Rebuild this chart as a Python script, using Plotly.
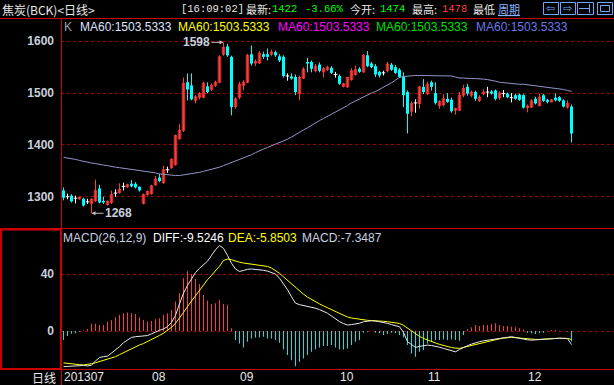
import plotly.graph_objects as go

W, H = 614, 385

# ---------------- data ----------------
opens = [1312,1300,1302,1297,1296,1296,1290,1287,1292,1316,1292,1285,1289,1307,1308,1320,1319,1325,1325,1319,
         1287,1304,1306,1323,1337,1327,1352,1356,1362,1412,1428,1521,1515,1486,1492,1492,1513,1507,1515,1521,
         1575,1590,1570,1474,1492,1515,1521,1575,1558,1558,1575,1575,1575,1579,1571,1570,1533,1532,1531,1499,
         1529,1560,1560,1543,1555,1541,1545,1549,1536,1533,1513,1512,1526,1536,1547,1541,1573,1557,1552,1541,
         1539,1543,1555,1550,1545,1532,1502,1465,1481,1480,1512,1499,1521,1500,1476,1478,1489,1487,1467,1467,
         1496,1512,1496,1502,1486,1499,1502,1503,1505,1491,1499,1499,1491,1496,1497,1496,1472,1473,1489,1476,
         1496,1487,1483,1491,1492,1486,1473,1474]
highs = [1318,1306,1305,1302,1300,1298,1296,1297,1333,1323,1300,1293,1312,1314,1326,1327,1325,1332,1328,1320,
         1306,1312,1323,1340,1344,1360,1358,1374,1420,1440,1530,1538,1538,1496,1502,1522,1521,1518,1524,1573,
         1598,1595,1572,1492,1522,1525,1576,1592,1565,1581,1580,1586,1584,1582,1575,1573,1538,1538,1536,1534,
         1550,1568,1563,1556,1559,1550,1553,1552,1541,1536,1520,1531,1548,1553,1550,1575,1581,1560,1556,1543,
         1543,1560,1558,1554,1548,1540,1505,1484,1488,1514,1527,1522,1524,1521,1486,1498,1500,1491,1472,1502,
         1516,1518,1505,1505,1496,1507,1512,1506,1507,1503,1506,1501,1500,1499,1499,1498,1478,1488,1493,1499,
         1498,1489,1488,1499,1494,1488,1486,1478]
lows = [1293,1295,1289,1287,1294,1281,1286,1268,1290,1287,1286,1283,1286,1300,1306,1312,1317,1318,1316,1310,
        1285,1302,1304,1321,1328,1325,1346,1354,1360,1410,1425,1486,1486,1480,1488,1490,1500,1504,1512,1519,
        1572,1570,1457,1470,1488,1505,1519,1553,1552,1556,1566,1563,1572,1570,1560,1530,1524,1526,1496,1486,
        1527,1540,1540,1540,1540,1530,1543,1537,1530,1516,1511,1510,1524,1534,1539,1539,1550,1548,1531,1530,
        1534,1540,1543,1537,1529,1473,1422,1455,1462,1470,1498,1496,1505,1478,1470,1474,1481,1462,1458,1465,
        1492,1495,1492,1485,1483,1496,1492,1497,1486,1487,1492,1490,1482,1487,1485,1470,1463,1471,1478,1474,
        1483,1480,1482,1484,1483,1472,1470,1405]
closes = [1298,1300,1291,1297,1299,1283,1290,1295,1312,1289,1289,1291,1304,1307,1314,1320,1323,1320,1318,1312,
          1304,1310,1321,1334,1330,1352,1352,1372,1418,1428,1519,1507,1488,1493,1499,1519,1502,1515,1521,1570,
          1588,1573,1473,1489,1517,1521,1573,1557,1561,1577,1570,1570,1579,1573,1563,1533,1533,1528,1502,1530,
          1546,1557,1547,1552,1543,1547,1550,1539,1536,1518,1518,1530,1543,1545,1541,1573,1552,1550,1536,1534,
          1539,1556,1545,1539,1531,1496,1460,1480,1481,1512,1502,1517,1512,1481,1484,1489,1483,1465,1470,1496,
          1509,1499,1502,1489,1492,1502,1502,1499,1489,1500,1499,1492,1491,1489,1487,1472,1475,1485,1480,1492,
          1485,1483,1487,1486,1485,1474,1480,1422]
ma60 = [1376,1375,1373,1372,1370,1368,1367,1365,1364,1362,1361,1360,1358,1357,1356,1355,1354,1353,1352,1351,
        1349,1348,1347,1346,1344,1343,1342,1341,1341,1341,1342,1343,1344,1345,1347,1349,1351,1352,1354,1357,
        1360,1363,1365,1368,1371,1374,1378,1381,1385,1389,1392,1395,1398,1401,1404,1408,1411,1415,1420,1424,
        1429,1433,1438,1443,1447,1451,1455,1460,1464,1468,1472,1476,1481,1485,1489,1493,1496,1500,1503,1507,
        1511,1515,1520,1525,1530,1532,1533,1534,1534,1534,1534,1534,1534,1534,1534,1534,1534,1533,1531,1529,
        1529,1528,1528,1528,1528,1527,1526,1525,1523,1521,1520,1519,1518,1518,1517,1517,1516,1515,1515,1514,
        1513,1512,1511,1510,1508,1507,1505,1503.5]
diff = [-25,-24.8,-24.6,-24.5,-24.3,-24.2,-24.5,-24,-21,-18.6,-18,-17.6,-15.5,-13.4,-11,-8.2,-6.5,-4.5,-4,-3.7,
        -3.5,-3.2,-2,-0.5,0.5,1.5,3,6,11,19,26.6,32,37,41,44,46.6,49,53,57,60,
        58,53,47.5,43.5,41.8,42.5,43.3,43.5,43.3,43,42.6,42,41,40,37,33,29,24,19.5,18.5,
        18,17.2,16.6,16,15,14,12.5,10.5,8.5,6.6,5.2,4.2,4.5,4.9,5.5,6.5,7,7.2,7,6.6,
        6,5.4,4.5,3.5,3,-1,-7.5,-9.5,-11.5,-10.8,-10.3,-9.9,-10.2,-10.6,-11.4,-12.2,-13,-14,-14.6,-13,
        -11.5,-10.3,-9.2,-8.2,-7.5,-6.9,-6.4,-6,-5.6,-5.2,-4.8,-4.4,-4,-4.6,-5.2,-5.9,-6.2,-6.4,-6.2,-6,
        -5.6,-5.4,-5.3,-5.2,-5.1,-5.2,-5.3,-9.5246]
dea = [-22.4,-22.8,-23.1,-23.4,-23.6,-23.8,-23.5,-23,-22.3,-21.5,-20.7,-19.8,-19.3,-18,-16.6,-15.2,-13.7,-12.2,-11,-9.8,
       -8.8,-7.5,-6.2,-4.6,-3.1,-1.6,0.3,2.6,5.4,9,13,17.2,21,25,29,32.5,36,39,42,45.5,
       49.5,50.5,50,49,48.3,47.7,47.3,47,46.7,46.4,46,45.3,44.2,42.5,40.5,38,35.5,33,30.5,28,
       25.8,23.8,22,20.4,19,17.6,16.3,15,13.6,12.2,10.8,9.8,9.1,8.6,8.1,7.8,7.5,7.3,7.3,7,
       6.8,6.5,6.2,5.9,5.3,4,2,0,-2,-3.8,-5.2,-6.4,-7.4,-8.4,-9.4,-10.2,-11,-11.6,-12,-12.2,
       -11.5,-10.8,-10,-9.3,-8.7,-8,-7.3,-6.7,-6,-5.5,-5,-4.7,-4.5,-4.7,-5,-5.3,-5.6,-5.8,-5.9,-5.9,
       -5.6,-5.4,-5.2,-5.2,-5.1,-5.1,-5.2,-5.8503]
macd = [-6.4,-3.5,-2,-1.6,-0.5,0.3,1.4,5,5,4.2,4.2,6.6,7.8,9.6,11.3,12.5,12.9,12.5,12,9.6,
        7.8,6.6,7,8.2,8.9,11.3,12.5,14.8,20.7,26.6,37,41.9,40,36.5,33,25.4,21.4,19,19.5,21.9,
        19,18.5,1.9,-6.4,-8.7,-11.5,-7.5,-5.2,-4.5,-4.5,-4,-5.2,-5.2,-6.4,-8.2,-12.9,-16.9,-20.5,-24.7,-21.6,
        -19.3,-16.9,-14.6,-12.9,-11.5,-10.6,-10.6,-9.9,-11.5,-12.9,-12.9,-12.2,-9.9,-7.5,-6.4,-1.2,-0.5,0.2,-1.2,-1.6,
        -2.8,-2.1,-1.2,-1.6,-2.8,-4.5,-9.9,-15.8,-18,-14.6,-13.4,-8.7,-7.5,-6.4,-6.4,-5.9,-6.4,-5.9,-6.4,-6.8,
        -2.8,1.2,2.6,4.2,3.5,4.2,4.2,4.9,5.4,4.2,3.5,3.5,3,2.6,1.9,1.2,-1.2,-1.6,-2.1,-1.6,
        -1.2,0.2,0.7,0.7,0.2,0.2,-0.2,-7.3487]
month_idx = [0, 22, 44, 69, 91, 116]
month_lbl = ["201307", "08", "09", "10", "11", "12"]
price_ticks = [1300, 1400, 1500, 1600]
macd_ticks = [0, 40]
low_mark_idx, high_mark_idx = 7, 40

# ---------------- helpers ----------------
def px(x):
    return x / W

def py(y):
    return 1 - y / H

RED = "#ff3c3c"
CYAN = "#00ffff"
GRID = "#a00000"
BORDER = "#d00000"
LABEL = "#c8d0dc"
SANS = "Liberation Sans, Arial, sans-serif"
CJK = "Noto Sans CJK SC, sans-serif"

idx = list(range(len(opens)))
up = [i for i in idx if closes[i] > opens[i]]
dn = [i for i in idx if closes[i] < opens[i]]
dj = [i for i in idx if closes[i] == opens[i]]

def wick(ids):
    xs, ys = [], []
    for i in ids:
        xs += [i, i, None]
        ys += [lows[i], highs[i], None]
    return xs, ys

fig = go.Figure()

# wicks
for ids, col in [(up, RED), (dn, CYAN), (dj, "#ffffff")]:
    xs, ys = wick(ids)
    fig.add_trace(go.Scatter(x=xs, y=ys, mode="lines", line=dict(color=col, width=1),
                             hoverinfo="skip", xaxis="x", yaxis="y"))

# bodies
fig.add_trace(go.Bar(x=dn, y=[opens[i] - closes[i] for i in dn], base=[closes[i] for i in dn],
                     width=0.75, marker=dict(color=CYAN, line=dict(width=0)), xaxis="x", yaxis="y"))
fig.add_trace(go.Bar(x=up, y=[closes[i] - opens[i] for i in up], base=[opens[i] for i in up],
                     width=0.62, marker=dict(color="black", line=dict(color=RED, width=1)),
                     xaxis="x", yaxis="y"))
dx, dy = [], []
for i in dj:
    dx += [i - 0.45, i + 0.45, None]
    dy += [opens[i], opens[i], None]
fig.add_trace(go.Scatter(x=dx, y=dy, mode="lines", line=dict(color="#ffffff", width=1),
                         xaxis="x", yaxis="y"))

# MA60
fig.add_trace(go.Scatter(x=idx, y=ma60, mode="lines", line=dict(color="#9494cc", width=1),
                         xaxis="x", yaxis="y"))

# MACD histogram
pos = [i for i in idx if macd[i] >= 0]
neg = [i for i in idx if macd[i] < 0]
fig.add_trace(go.Bar(x=pos, y=[macd[i] for i in pos], width=0.25,
                     marker=dict(color=RED, line=dict(width=0)), xaxis="x2", yaxis="y2"))
fig.add_trace(go.Bar(x=neg, y=[macd[i] for i in neg], width=0.25,
                     marker=dict(color="#00e8e8", line=dict(width=0)), xaxis="x2", yaxis="y2"))
fig.add_trace(go.Scatter(x=idx, y=dea, mode="lines", line=dict(color="#ffff00", width=1),
                         xaxis="x2", yaxis="y2"))
fig.add_trace(go.Scatter(x=idx, y=diff, mode="lines", line=dict(color="#e8e8e8", width=1),
                         xaxis="x2", yaxis="y2"))

# ---------------- axes ----------------
xr = [-0.625, 137.625]
xdom = [px(61), 1]
fig.update_layout(
    xaxis=dict(domain=xdom, range=xr, anchor="y", showticklabels=False, showgrid=False,
               zeroline=False, showline=False, ticks=""),
    yaxis=dict(domain=[py(228), py(19)], range=[1239.6, 1643.0], anchor="x",
               tickvals=price_ticks, ticks="", showgrid=True, gridcolor=GRID, griddash="dot",
               gridwidth=1, zeroline=False, showline=False, ticklabelstandoff=6,
               tickfont=dict(family=SANS, size=12, color=LABEL, weight="bold")),
    xaxis2=dict(domain=xdom, range=xr, anchor="y2", showticklabels=False, showgrid=False,
                zeroline=False, showline=False, ticks=""),
    yaxis2=dict(domain=[py(369), py(229)], range=[-26.67, 71.58], anchor="x2",
                tickvals=macd_ticks, ticks="", showgrid=True, gridcolor=GRID, griddash="dot",
                gridwidth=1, zeroline=False, showline=False, ticklabelstandoff=6,
                tickfont=dict(family=SANS, size=12, color=LABEL, weight="bold")),
)

# ---------------- frame lines ----------------
shapes = []
def hline(y, x0=0, x1=W, color=BORDER, w=1):
    shapes.append(dict(type="line", xref="paper", yref="paper", x0=px(x0), x1=px(x1),
                       y0=py(y), y1=py(y), line=dict(color=color, width=w)))
def vline(x, y0, y1, color=BORDER, w=1):
    shapes.append(dict(type="line", xref="paper", yref="paper", x0=px(x), x1=px(x),
                       y0=py(y0), y1=py(y1), line=dict(color=color, width=w)))
def rect(x0, y0, x1, y1, color, w=1):
    shapes.append(dict(type="rect", xref="paper", yref="paper", x0=px(x0), x1=px(x1),
                       y0=py(y1), y1=py(y0), line=dict(color=color, width=w)))

hline(18.5)
hline(228.5)
hline(369.5)
vline(61.5, 18.5, 385)
rect(1, 229.5, 61, 369, BORDER, 2)

# header buttons
BTN = "#6ea8ff"
for x0, x1 in [(543, 558), (560, 575), (577, 593), (597, 612)]:
    rect(x0 + 0.5, 2.5, x1 + 0.5, 14.5, BTN, 1)
hline(8.5, 579, 589, BTN)
vline(589.5, 4, 13, BTN)
rect(600.5, 5.5, 609.5, 11.5, BTN, 1)

# ---------------- texts ----------------
ann = []
def txt(x, y, s, color, size=12, family=SANS, anchor="left", bold=False, bg=None):
    d = dict(xref="paper", yref="paper", x=px(x), y=py(y), text=s, showarrow=False,
             xanchor=anchor, yanchor="middle", borderpad=0,
             font=dict(family=family, size=size, color=color, weight="bold" if bold else "normal"))
    if bg:
        d["bgcolor"] = bg
    ann.append(d)

WHITE = "#e8e8e8"
HF = "Liberation Mono, Noto Sans CJK SC, monospace"
txt(1, 9, "焦炭(BCK)&lt;日线&gt;", WHITE, 12, CJK)
txt(180, 9, "[16:09:02]", WHITE, 10.5, HF)
txt(245, 9, "最新:", WHITE, 11, CJK)
txt(271, 9, "1422", "#00ff00", 10.5, HF)
txt(304, 9, "-3.66%", "#00ff00", 10.5, HF)
txt(349, 9, "今开:", WHITE, 11, CJK)
txt(379, 9, "1474", "#00ff00", 10.5, HF)
txt(411, 9, "最高:", WHITE, 11, CJK)
txt(441, 9, "1478", "#ff4040", 10.5, HF)
txt(472, 9, "最低", WHITE, 11, CJK)
txt(497, 9, "<u>周期</u>", "#88b4ff", 11, CJK, bg="black")
txt(550.5, 8.5, "⇦", BTN, 11, "DejaVu Sans", anchor="center")
txt(567.5, 8.5, "⇨", BTN, 11, "DejaVu Sans", anchor="center")

# legend line of price panel
txt(63, 27, "K", "#a0a0a0", 12)
txt(79, 27, "MA60:1503.5333", "#dce4ff", 12)
txt(177, 27, "MA60:1503.5333", "#ffff00", 12)
txt(277, 27, "MA60:1503.5333", "#ff00ff", 12)
txt(375, 27, "MA60:1503.5333", "#00e000", 12)
txt(475, 27, "MA60:1503.5333", "#6a78e8", 12)

# legend line of MACD panel
txt(62, 238, "MACD(26,12,9)", "#c8d0e0", 12)
txt(152, 238, "DIFF:-9.5246", "#ffffff", 12)
txt(227, 238, "DEA:-5.8503", "#ffff00", 12)
txt(301, 238, "MACD:-7.3487", "#c8d0e0", 12)

# bottom labels
txt(57, 377, "日线", WHITE, 12, CJK, anchor="right")
for i, s in zip(month_idx, month_lbl):
    ann.append(dict(xref="x2", yref="paper", x=i, y=py(377), text=s, showarrow=False,
                    xanchor="left", yanchor="middle", xshift=-2,
                    font=dict(family=SANS, size=12, color=WHITE)))

# high / low markers
ann.append(dict(xref="x", yref="y", x=high_mark_idx, y=highs[high_mark_idx], text=str(highs[high_mark_idx]),
                showarrow=True, ax=-27, ay=0, arrowhead=2, arrowsize=0.8, arrowwidth=1,
                arrowcolor="#c0c0c0", font=dict(family=SANS, size=12, color=LABEL, weight="bold")))
ann.append(dict(xref="x", yref="y", x=low_mark_idx, y=lows[low_mark_idx], text=str(lows[low_mark_idx]),
                showarrow=True, ax=27, ay=0, arrowhead=2, arrowsize=0.8, arrowwidth=1,
                arrowcolor="#c0c0c0", font=dict(family=SANS, size=12, color=LABEL, weight="bold")))

fig.update_layout(
    width=W, height=H, margin=dict(l=0, r=0, t=0, b=0, pad=0),
    paper_bgcolor="black", plot_bgcolor="black",
    showlegend=False, barmode="overlay", hovermode=False,
    shapes=shapes, annotations=ann,
)

fig.write_html("out.html", config={"displayModeBar": False, "staticPlot": True},
               post_script="document.body.style.margin='0';document.body.style.background='black';")
